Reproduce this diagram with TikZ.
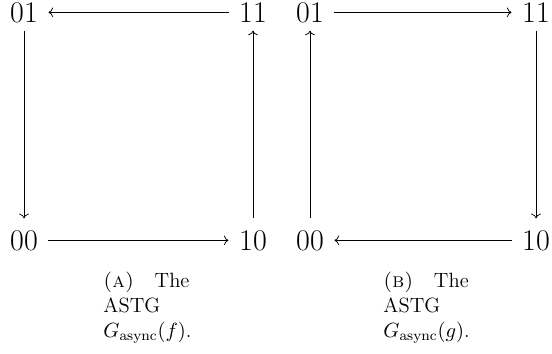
\documentclass[tikz,border=0pt]{standalone}
\usepackage{amsmath}
\usepackage{tikz}
\usetikzlibrary{arrows.meta, positioning}

\begin{document}
\begin{tikzpicture}[
    x=0.533pt, y=-0.533pt,
    state/.style={font=\fontsize{16pt}{19pt}\selectfont, anchor=base, inner xsep=5.5pt, inner ysep=0.4pt, text height=10.3pt, text depth=0pt},
    trans/.style={->},
    down/.style={trans, shorten <=4pt, shorten >=6pt},
    up/.style={trans, shorten <=6pt, shorten >=4pt},
    subcap/.style={anchor=north west, inner sep=0pt, text width=47.5pt, align=justify, font=\fontsize{11pt}{13.4pt}\selectfont}
]
    \useasboundingbox (0,0) rectangle (552,353);

    % the ASTG of f
    \node[state] (f01) at (24,22) {01};
    \node[state] (f11) at (253,22) {11};
    \node[state] (f00) at (24,250) {00};
    \node[state] (f10) at (253,250) {10};
    \draw[trans] (f11) -- (f01);
    \draw[down] (f01) -- (f00);
    \draw[trans] (f00) -- (f10);
    \draw[up] (f10) -- (f11);
    \node[subcap] (capf) at (103,271.5) {\textsc{(a)}\quad The ASTG $G_{\text{async}}(f)$.};

    % the ASTG of g
    \node[state] (g01) at (310,22) {01};
    \node[state] (g11) at (536,22) {11};
    \node[state] (g00) at (310,250) {00};
    \node[state] (g10) at (536,250) {10};
    \draw[up] (g00) -- (g01);
    \draw[trans] (g01) -- (g11);
    \draw[down] (g11) -- (g10);
    \draw[trans] (g10) -- (g00);
    \node[subcap] (capg) at (383,271.5) {\textsc{(b)}\quad The ASTG $G_{\text{async}}(g)$.};
\end{tikzpicture}
\end{document}
